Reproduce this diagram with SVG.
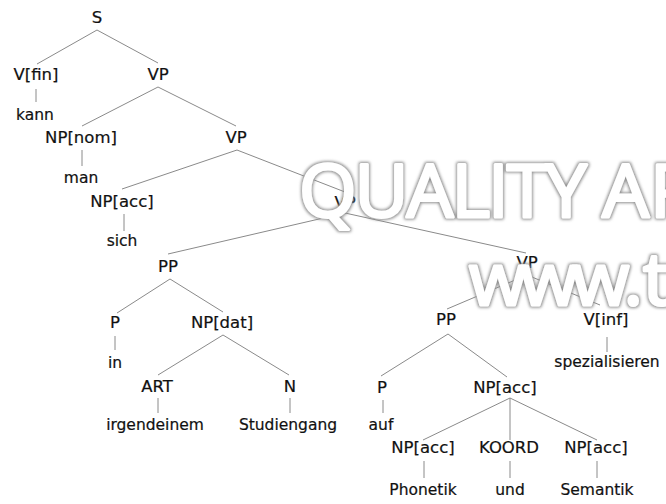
<svg xmlns="http://www.w3.org/2000/svg" width="666" height="504" viewBox="0 0 666 504">
<defs>
<style>
.c{font-family:"DejaVu Sans",sans-serif;font-size:16.5px;fill:#111111;stroke:#111111;stroke-width:0.2;text-anchor:middle}
.w{font-family:"DejaVu Sans",sans-serif;font-size:15.5px;fill:#111111;stroke:#111111;stroke-width:0.2;text-anchor:middle}
.e line{stroke:#8a8a8a;stroke-width:1}
.wm{font-family:"Open Sans",sans-serif;font-size:74px;font-weight:400;fill:#ffffff;stroke:#ffffff;stroke-width:3;stroke-linejoin:round}
</style>
<filter id="sh" x="-10%" y="-30%" width="120%" height="160%">
<feMorphology in="SourceAlpha" operator="dilate" radius="1" result="d"/>
<feGaussianBlur in="d" stdDeviation="1.4" result="b"/>
<feFlood flood-color="#8c8c8c"/>
<feComposite in2="b" operator="in" result="s"/>
<feMerge><feMergeNode in="s"/><feMergeNode in="SourceGraphic"/></feMerge>
</filter>
</defs>
<rect width="666" height="504" fill="#ffffff"/>
<g id="edges" class="e">
<line x1="97" y1="30" x2="37" y2="64"/>
<line x1="97" y1="30" x2="158" y2="63"/>
<line x1="36" y1="89" x2="36" y2="102"/>
<line x1="158" y1="87" x2="82" y2="126"/>
<line x1="158" y1="87" x2="236" y2="126"/>
<line x1="82" y1="150" x2="82" y2="166"/>
<line x1="237" y1="150" x2="345" y2="192"/>
<line x1="237" y1="150" x2="122" y2="189"/>
<line x1="124" y1="214" x2="124" y2="231"/>
<line x1="345" y1="213" x2="168" y2="254"/>
<line x1="345" y1="213" x2="526" y2="253"/>
<line x1="170" y1="279" x2="117" y2="313"/>
<line x1="170" y1="279" x2="223" y2="312"/>
<line x1="115" y1="336" x2="115" y2="350"/>
<line x1="223" y1="335" x2="158" y2="375"/>
<line x1="223" y1="335" x2="289" y2="375"/>
<line x1="158" y1="398" x2="158" y2="413"/>
<line x1="290" y1="398" x2="290" y2="413"/>
<line x1="527" y1="275" x2="447" y2="309"/>
<line x1="527" y1="275" x2="600" y2="305"/>
<line x1="607" y1="337" x2="607" y2="352"/>
<line x1="448" y1="334" x2="381" y2="376"/>
<line x1="448" y1="334" x2="507" y2="377"/>
<line x1="383" y1="400" x2="383" y2="413"/>
<line x1="510" y1="398" x2="423" y2="440"/>
<line x1="510" y1="398" x2="510" y2="440"/>
<line x1="510" y1="398" x2="597" y2="440"/>
<line x1="424" y1="461" x2="424" y2="478"/>
<line x1="510" y1="461" x2="510" y2="478"/>
<line x1="597" y1="461" x2="597" y2="478"/>
</g>
<g id="n-S"><text class="c" x="97" y="23">S</text></g>
<g id="n-Vfin"><text class="c" x="36" y="80">V[fin]</text></g>
<g id="n-kann"><text class="w" x="35" y="120">kann</text></g>
<g id="n-VP1"><text class="c" x="158" y="80">VP</text></g>
<g id="n-NPnom"><text class="c" x="81" y="143">NP[nom]</text></g>
<g id="n-man"><text class="w" x="81" y="183">man</text></g>
<g id="n-VP2"><text class="c" x="236" y="143">VP</text></g>
<g id="n-NPacc1"><text class="c" x="122" y="207">NP[acc]</text></g>
<g id="n-sich"><text class="w" x="122" y="246">sich</text></g>
<g id="n-VP3"><text class="c" x="345" y="208">VP</text></g>
<g id="n-PP1"><text class="c" x="168" y="272">PP</text></g>
<g id="n-VP4"><text class="c" x="527" y="268">VP</text></g>
<g id="n-P1"><text class="c" x="115" y="328">P</text></g>
<g id="n-in"><text class="w" x="115" y="368">in</text></g>
<g id="n-NPdat"><text class="c" x="222" y="328">NP[dat]</text></g>
<g id="n-ART"><text class="c" x="157" y="392">ART</text></g>
<g id="n-irgendeinem"><text class="w" x="155" y="430">irgendeinem</text></g>
<g id="n-N"><text class="c" x="290" y="392">N</text></g>
<g id="n-Studiengang"><text class="w" x="288" y="430">Studiengang</text></g>
<g id="n-PP2"><text class="c" x="446" y="325">PP</text></g>
<g id="n-Vinf"><text class="c" x="606" y="325">V[inf]</text></g>
<g id="n-spezialisieren"><text class="w" x="607" y="367">spezialisieren</text></g>
<g id="n-P2"><text class="c" x="382" y="393">P</text></g>
<g id="n-auf"><text class="w" x="381" y="430">auf</text></g>
<g id="n-NPacc2"><text class="c" x="505" y="393">NP[acc]</text></g>
<g id="n-NPacc3"><text class="c" x="423" y="453">NP[acc]</text></g>
<g id="n-KOORD"><text class="c" x="509" y="453">KOORD</text></g>
<g id="n-NPacc4"><text class="c" x="596" y="453">NP[acc]</text></g>
<g id="n-Phonetik"><text class="w" x="423" y="495">Phonetik</text></g>
<g id="n-und"><text class="w" x="510" y="495">und</text></g>
<g id="n-Semantik"><text class="w" x="597" y="495">Semantik</text></g>
<g id="watermark" filter="url(#sh)">
<text class="wm" x="299" y="217" textLength="350" lengthAdjust="spacing">QUALITY A</text>
<text class="wm" x="650" y="217">P</text>
<text class="wm" x="469" y="305" textLength="174" lengthAdjust="spacing">www.</text>
<text class="wm" x="643" y="305">t</text>
</g>
</svg>
